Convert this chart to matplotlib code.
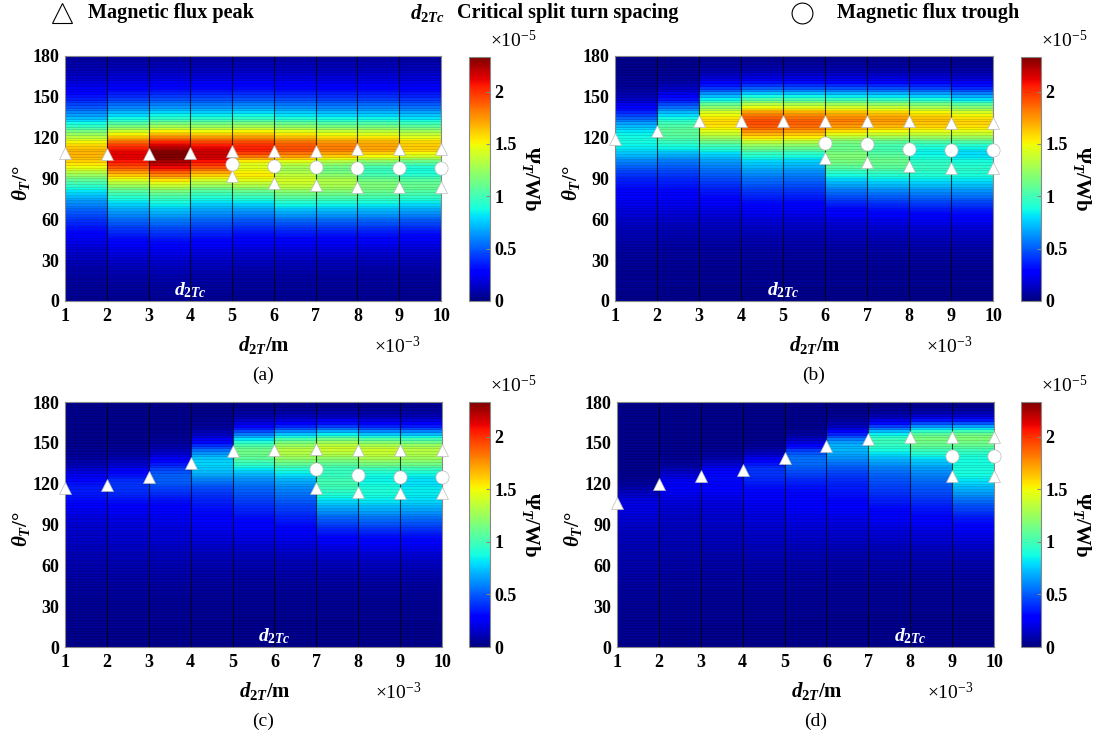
import numpy as np
import matplotlib
matplotlib.use('Agg')
import matplotlib.pyplot as plt
from matplotlib.lines import Line2D
from matplotlib.ticker import FuncFormatter

plt.rcParams['font.family'] = 'Liberation Serif'
plt.rcParams['font.weight'] = 'bold'
plt.rcParams['mathtext.fontset'] = 'custom'
plt.rcParams['mathtext.rm'] = 'Liberation Serif:bold'
plt.rcParams['mathtext.it'] = 'Liberation Serif:italic:bold'
plt.rcParams['mathtext.bf'] = 'Liberation Serif:bold'

nan = np.nan

# split turn spacing d_2T (x 1e-3 m)
d_2T = [1, 2, 3, 4, 5, 6, 7, 8, 9, 10]

# (a) peak / trough angles (deg) and peak flux per column (x 1e-5 Wb)
peak_a = [109, 108, 108, 109, 110.5, 110.5, 110.5, 111.5, 111.5, 111.5]
low_a = [nan, nan, nan, nan, 92, 87, 85.5, 84, 84, 84]
trough_a = [nan, nan, nan, nan, 101, 99, 98.5, 97.5, 97.5, 97.5]
flux_a = [1.65, 2.1, 2.3, 2.15, 2.05, 1.95, 1.85, 1.75, 1.65]
dip_a = [0, 0, 0, 0, 0.25, 0.3, 0.35, 0.4, 0.42]

# (b)
peak_b = [119, 125, 132, 132, 132, 132, 132, 132, 131, 131]
low_b = [nan, nan, nan, nan, nan, 105, 102, 99, 98, 98]
trough_b = [nan, nan, nan, nan, nan, 116, 115, 112, 111, 111]
flux_b = [0.85, 1.05, 1.55, 1.9, 1.85, 1.8, 1.75, 1.65, 1.6]
dip_b = [0, 0, 0, 0, 0, 0.3, 0.35, 0.4, 0.42]

# (c)
peak_c = [116.5, 119, 125, 135.5, 144, 145, 145.5, 144.5, 144.5, 144.5]
low_c = [nan, nan, nan, nan, nan, nan, 116.5, 114, 113, 113]
trough_c = [nan, nan, nan, nan, nan, nan, 131, 126.5, 125, 125]
flux_c = [0.32, 0.38, 0.48, 0.75, 1.1, 1.3, 1.4, 1.38, 1.32]
dip_c = [0, 0, 0, 0, 0, 0, 0.25, 0.3, 0.3]

# (d)
peak_d = [105.5, 120, 125.5, 130, 139, 147.5, 152.5, 154, 154, 154]
low_d = [nan, nan, nan, nan, nan, nan, nan, nan, 126, 126]
trough_d = [nan, nan, nan, nan, nan, nan, nan, nan, 140, 140]
flux_d = [0.18, 0.22, 0.28, 0.38, 0.52, 0.68, 0.95, 1.12, 1.18]
dip_d = [0, 0, 0, 0, 0, 0, 0, 0, 0.2]

# band shape: (core width below, tail width below, core width above,
#              tail width above, core weight) in deg, plus background level
shape_a = (14, 37, 13, 28, 0.45, 0.03)
shape_b = (12, 38, 15, 15, 0.5, 0.03)
shape_c = (10, 40, 11, 11, 0.45, 0.03)
shape_d = (10, 42, 8, 8, 0.4, 0.03)

d_crit = {'a': 4, 'b': 5, 'c': 6, 'd': 8}

W, H = 1099, 738
fig = plt.figure(figsize=(W / 100, H / 100), dpi=100)


def rect(l, t, r, b):
    return [l / W, 1 - b / H, (r - l) / W, (b - t) / H]


def fxy(x, y):
    return x / W, 1 - y / H


theta_edges = np.arange(0, 182, 2)
theta_mid = 0.5 * (theta_edges[:-1] + theta_edges[1:])


def side(dt, core, tail, w):
    return w * np.exp(-0.5 * (dt / core) ** 2) + (1 - w) * np.exp(-0.5 * (dt / tail) ** 2)


def flux_map(peak, low, trough, flux, dip, shape):
    c_lo, t_lo, c_hi, t_hi, w, floor = shape
    cols = []
    for i in range(len(flux)):
        dt = theta_mid - peak[i]
        core_lo = c_lo
        if not np.isnan(trough[i]):
            core_lo = max(c_lo, peak[i] - low[i])
        prof = np.where(dt < 0, side(dt, core_lo, t_lo, w), side(dt, c_hi, t_hi, w))
        v = floor + flux[i] * prof
        if not np.isnan(trough[i]):
            wn = (peak[i] - low[i]) / 4
            v = v * (1 - dip[i] * np.exp(-0.5 * ((theta_mid - trough[i]) / wn) ** 2))
        cols.append(v)
    return np.array(cols).T


panels = [
    ('a', (65, 56, 441, 301), (469, 57, 490, 301), peak_a, low_a, trough_a, flux_a, dip_a, shape_a),
    ('b', (615, 56, 993, 301), (1021, 57, 1041, 301), peak_b, low_b, trough_b, flux_b, dip_b, shape_b),
    ('c', (65, 402, 442, 647), (469, 402, 490, 647), peak_c, low_c, trough_c, flux_c, dip_c, shape_c),
    ('d', (617, 402, 994, 647), (1021, 402, 1041, 647), peak_d, low_d, trough_d, flux_d, dip_d, shape_d),
]

for tag, ax_px, cb_px, peak, low, trough, flux, dip, shape in panels:
    ax = fig.add_axes(rect(*ax_px))
    Z = flux_map(peak, low, trough, flux, dip, shape)
    mesh = ax.pcolormesh(d_2T, theta_edges, Z, cmap='jet', vmin=0, vmax=2.33,
                         edgecolors=(0, 0, 0, 0.12), linewidth=0.4)
    ax.vlines(d_2T[1:-1], 0, 180, color='k', lw=0.8, alpha=0.7)

    ax.plot(d_2T, peak, '^', ms=8.5, mfc='white', mec='#bbbbbb', mew=0.5, clip_on=False, zorder=5)
    ax.plot(d_2T, low, '^', ms=8.5, mfc='white', mec='#bbbbbb', mew=0.5, clip_on=False, zorder=5)
    ax.plot(d_2T, trough, 'o', ms=9.5, mfc='white', mec='#bbbbbb', mew=0.5, clip_on=False, zorder=5)

    ax.text(d_crit[tag], 8, r'$d_{\mathit{2Tc}}$', color='white', fontsize=14,
            ha='center', va='center')

    ax.set_xlim(1, 10)
    ax.set_ylim(0, 180)
    ax.set_xticks(d_2T)
    ax.set_yticks(range(0, 181, 30))
    ax.tick_params(length=0, labelsize=13)
    ax.tick_params(axis='x', pad=5)
    ax.tick_params(axis='y', pad=4)
    for sp in ax.spines.values():
        sp.set_color('#888888')
        sp.set_linewidth(0.8)

    l, t, r, b = ax_px
    cx = (l + r) / 2
    fig.text(*fxy(cx + 11, b + 44), r'$d_{\mathit{2T}}$/m', fontsize=15, ha='center', va='center')
    fig.text(*fxy(r - 44, b + 46), '×10$^{\\mathregular{-3}}$', fontsize=14, fontweight='normal',
             ha='center', va='center')
    fig.text(*fxy(cx + 10, b + 74), '(%s)' % tag, fontsize=14, fontweight='normal',
             ha='center', va='center')
    fig.text(*fxy(l - 44, (t + b) / 2 + 5), r'$\theta_T$/°', fontsize=15, rotation=90,
             ha='center', va='center')

    cax = fig.add_axes(rect(*cb_px))
    cb = fig.colorbar(mesh, cax=cax, ticks=[0, 0.5, 1, 1.5, 2],
                      format=FuncFormatter(lambda v, pos: '%g' % v))
    cb.outline.set_edgecolor('#888888')
    cb.outline.set_linewidth(0.8)
    cax.tick_params(length=3, direction='in', labelsize=13, pad=3, color='#888888')
    cl, ct, cr, cbm = cb_px
    fig.text(*fxy(cr + 41, (ct + cbm) / 2), r'$\Psi_T$/Wb', fontsize=15, rotation=270,
             ha='center', va='center')
    fig.text(*fxy(cr, ct - 6), '×10$^{\\mathregular{-5}}$', fontsize=14, fontweight='normal',
             ha='left', va='bottom')

# marker key along the top
fig.add_artist(Line2D([62 / W], [1 - 13 / H], marker='^', ms=15, mfc='white', mec='black',
                      mew=0.8, transform=fig.transFigure))
fig.text(*fxy(88, 13), 'Magnetic flux peak', fontsize=14.5, ha='left', va='center')
fig.text(*fxy(410, 13), r'$d_{\mathit{2Tc}}$', fontsize=15, ha='left', va='center')
fig.text(*fxy(457, 13), 'Critical split turn spacing', fontsize=14.5, ha='left', va='center')
fig.add_artist(Line2D([802 / W], [1 - 13 / H], marker='o', ms=15, mfc='white', mec='black',
                      mew=0.8, transform=fig.transFigure))
fig.text(*fxy(837, 13), 'Magnetic flux trough', fontsize=14.5, ha='left', va='center')

fig.savefig('out.png', dpi=100)
